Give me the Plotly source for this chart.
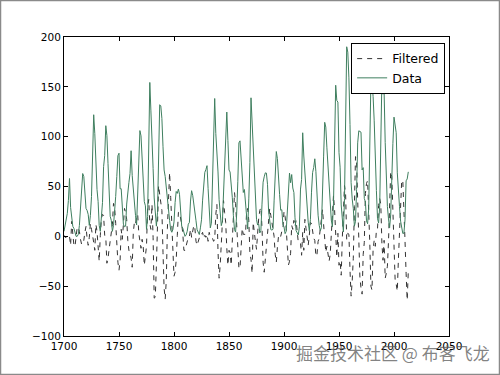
import plotly.graph_objects as go

years = list(range(1700, 2014))

sunspots = [5, 11, 16, 23, 36, 58, 29, 20, 10, 8,
    3, 0, 0, 2, 11, 27, 47, 63, 60, 39,
    28, 26, 22, 11, 21, 40, 78, 122, 103, 73,
    47, 35, 11, 5, 16, 34, 70, 81, 111, 101,
    73, 40, 20, 16, 5, 11, 22, 40, 60, 80.9,
    83.4, 47.7, 47.8, 30.7, 12.2, 9.6, 10.2, 32.4, 47.6, 54,
    62.9, 85.9, 61.2, 45.1, 36.4, 20.9, 11.4, 37.8, 69.8, 106.1,
    100.8, 81.6, 66.5, 34.8, 30.6, 7, 19.8, 92.5, 154.4, 125.9,
    84.8, 68.1, 38.5, 22.8, 10.2, 24.1, 82.9, 132, 130.9, 118.1,
    89.9, 66.6, 60, 46.9, 41, 21.3, 16, 6.4, 4.1, 6.8,
    14.5, 34, 45, 43.1, 47.5, 42.2, 28.1, 10.1, 8.1, 2.5,
    0, 1.4, 5, 12.2, 13.9, 35.4, 45.8, 41.1, 30.1, 23.9,
    15.6, 6.6, 4, 1.8, 8.5, 16.6, 36.3, 49.6, 64.2, 67,
    70.9, 47.8, 27.5, 8.5, 13.2, 56.9, 121.5, 138.3, 103.2, 85.7,
    64.6, 36.7, 24.2, 10.7, 15, 40.1, 61.5, 98.5, 124.7, 96.3,
    66.6, 64.5, 54.1, 39, 20.6, 6.7, 4.3, 22.7, 54.8, 93.8,
    95.8, 77.2, 59.1, 44, 47, 30.5, 16.3, 7.3, 37.6, 74,
    139, 111.2, 101.6, 66.2, 44.7, 17, 11.3, 12.4, 3.4, 6,
    32.3, 54.3, 59.7, 63.7, 63.5, 52.2, 25.4, 13.1, 6.8, 6.3,
    7.1, 35.6, 73, 85.1, 78, 64, 41.8, 26.2, 26.7, 12.1,
    9.5, 2.7, 5, 24.4, 42, 63.5, 53.8, 62, 48.5, 43.9,
    18.6, 5.7, 3.6, 1.4, 9.6, 47.4, 57.1, 103.9, 80.6, 63.6,
    37.6, 26.1, 14.2, 5.8, 16.7, 44.3, 63.9, 69, 77.8, 64.9,
    35.7, 21.2, 11.1, 5.7, 8.7, 36.1, 79.7, 114.4, 109.6, 88.8,
    67.8, 47.5, 30.6, 16.3, 9.6, 33.2, 92.6, 151.6, 136.3, 134.7,
    83.9, 69.4, 31.5, 13.9, 4.4, 38, 141.7, 190.2, 184.8, 159,
    112.3, 53.9, 37.6, 27.9, 10.2, 15.1, 47, 93.8, 105.9, 105.5,
    104.5, 66.6, 68.9, 38, 34.5, 15.5, 12.6, 27.5, 92.5, 155.4,
    154.6, 140.4, 115.9, 66.6, 45.9, 17.9, 13.4, 29.4, 100.2, 157.6,
    142.6, 145.7, 94.3, 54.6, 29.9, 17.5, 8.6, 21.5, 64.3, 93.3,
    119.6, 111, 104, 63.7, 40.4, 29.8, 15.2, 7.5, 2.9, 3.1,
    16.5, 55.7, 57.6, 64.7]

filtered = [1, -1, -1, 1, 2, 0, -9, 15, 1, -9,
    -10, 1, 9, 9, 5, -3, -8, -8, -4, 4,
    10, -2, -9, -1, 13, 7, 2, -6, -14, 12,
    5, -15, -25, 1, 18, 22, 21, 1, -1, -27,
    -22, -13, -6, 1, 12, 33, 29, 13, -10, -26,
    -34, -24, 7, -3, 12, 28, 24, 17, -4, -14,
    -17, -22, -31, 4, 14, 12, 20, 22, 3, -4,
    -12, -3, -10, -29, -16, -10, 28, 37, 13, 7,
    32, -1, -62, -61, -29, 21, 51, 42, 32, 26,
    -16, -52, -63, -44, 8, 45, 64, 39, 8, -23,
    -40, -36, -24, 1, 24, 24, 19, 12, 3, -14,
    -14, -10, -5, -1, 0, 7, -1, 4, 11, 8,
    -5, -9, -6, -3, 2, 2, 4, -2, 1, -1,
    2, -5, 4, 0, -1, -2, -5, -3, 22, 32,
    -15, -42, -29, -7, 25, 36, 24, 14, -12, -29,
    -14, -16, -29, -4, 29, 44, 33, 8, -20, -32,
    -32, -6, 8, 2, 2, 2, 24, 28, 16, -17,
    -23, -37, 14, 0, -5, -13, 6, 18, 26, 29,
    9, -26, -36, -23, -13, -2, 13, 28, 21, 12,
    4, 0, -18, -26, -11, 0, -2, 0, 5, 7,
    25, 20, 8, -11, -29, -25, -17, 11, 7, 16,
    10, 16, 6, -6, -7, -7, -19, 4, -14, 17,
    8, -1, -9, 1, 14, 13, 2, -2, -4, -20,
    -18, -5, -2, 9, 22, 27, 12, -7, -16, -10,
    -16, -25, -18, 5, 29, 41, 26, -3, -21, 3,
    -29, -25, -39, -2, 28, 51, 43, -3, 3, 2,
    -34, -60, -45, -22, 30, 80, 74, 29, -24, -41,
    -52, -58, -18, -6, 43, 53, 56, 28, -7, -50,
    -54, -13, -4, -10, 6, 7, 31, 38, 32, -7,
    -24, -4, -42, -37, -30, -5, 32, 65, 60, 19,
    -10, -43, -48, -55, -23, 3, 28, 56, 56, 32,
    -4, -37, -64, -35]

x_ticks = [1700, 1750, 1800, 1850, 1900, 1950, 2000, 2050]
y_ticks = [-100, -50, 0, 50, 100, 150, 200]
watermark = "掘金技术社区 @ 布客飞龙"

fig = go.Figure()
fig.add_trace(go.Scatter(x=years, y=filtered, mode="lines", name="Filtered",
                         line=dict(color="#333333", width=1, dash="5px,5px")))
fig.add_trace(go.Scatter(x=years, y=sunspots, mode="lines", name="Data",
                         line=dict(color="#3f7f5f", width=1)))

axis_common = dict(showgrid=False, zeroline=False, ticks="inside", ticklen=4,
                   tickcolor="black", showline=True, linecolor="black", linewidth=1,
                   mirror="allticks",
                   tickfont=dict(family="DejaVu Sans", size=10.5, color="black"))
fig.update_xaxes(range=[1700, 2050], tickvals=x_ticks, **axis_common)
fig.update_yaxes(range=[-100, 200], tickvals=y_ticks, **axis_common)

L, R, T, B = 64, 51, 37, 39
W, H = 500, 375
pw, ph = W - L - R, H - T - B
fig.update_layout(
    width=W, height=H, margin=dict(l=L, r=R, t=T, b=B),
    paper_bgcolor="white", plot_bgcolor="white", showlegend=True,
    legend=dict(x=0.99, y=0.98, xanchor="right", yanchor="top",
                bordercolor="black", borderwidth=1, bgcolor="white",
                font=dict(family="DejaVu Sans", size=12.5, color="black"),
                tracegroupgap=0, itemwidth=30),
    shapes=[dict(type="rect", xref="paper", yref="paper",
                 x0=(0.5 - L) / pw, x1=(W - 0.5 - L) / pw,
                 y0=(H - T - B - (H - 0.5 - T)) / ph, y1=(H - T - B - 0.5 + T) / ph,
                 line=dict(color="#8a8a8a", width=1.5), layer="above")],
    annotations=[dict(text=watermark, xref="paper", yref="paper",
                      x=(492 - L) / pw, y=(ph - (352 - T)) / ph,
                      xanchor="right", yanchor="middle", showarrow=False,
                      font=dict(family="Noto Sans CJK SC", size=17, color="rgba(90,90,90,0.75)"))],
)
fig.write_html("out.html")
